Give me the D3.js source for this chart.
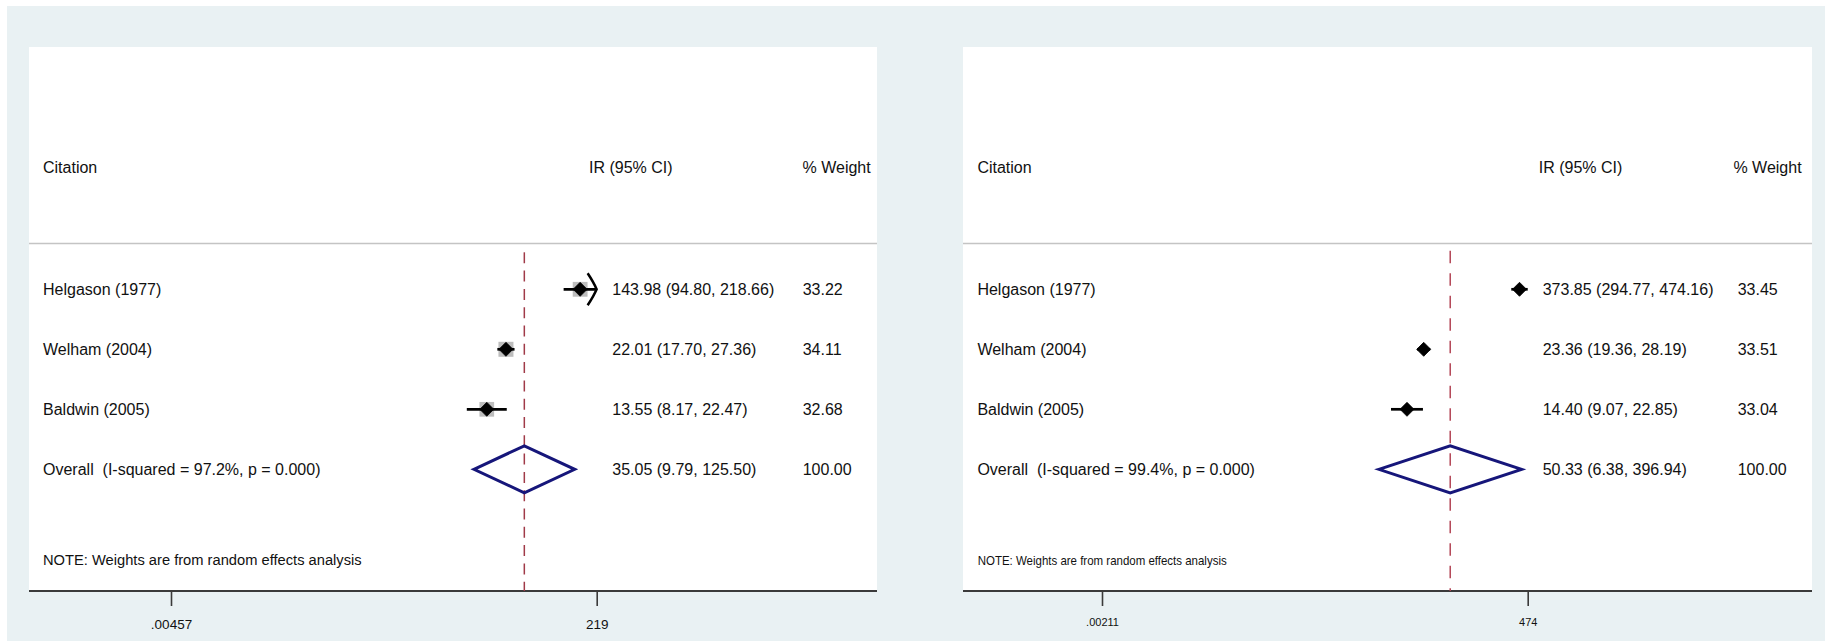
<!DOCTYPE html>
<html><head><meta charset="utf-8">
<script src="https://cdn.jsdelivr.net/npm/d3@7"></script>
<style>
html,body{margin:0;padding:0;background:#fff;}
svg{display:block;font-family:"Liberation Sans",Arial,sans-serif;}
text{white-space:pre;fill:#111;}
</style></head><body>
<svg id="chart" width="1825" height="641"></svg>
<script>
// ---- data ----
const studies = ["Helgason (1977)", "Welham (2004)", "Baldwin (2005)"];
const headers = ["Citation", "IR (95% CI)", "% Weight"];
const note = "NOTE: Weights are from random effects analysis";

const irA = [143.98, 22.01, 13.55];
const loA = [94.80, 17.70, 8.17];
const hiA = [218.66, 27.36, 22.47];
const weightA = [33.22, 34.11, 32.68];
const arrowA = [true, false, false];
const overallA = [35.05, 9.79, 125.50];
const overallWeightA = 100.00;
const hetA = ["97.2", "0.000"];
const ticksA = [0.00457, 219];
const tickLabelsA = [".00457", "219"];

const irB = [373.85, 23.36, 14.40];
const loB = [294.77, 19.36, 9.07];
const hiB = [474.16, 28.19, 22.85];
const weightB = [33.45, 33.51, 33.04];
const arrowB = [false, false, false];
const overallB = [50.33, 6.38, 396.94];
const overallWeightB = 100.00;
const hetB = ["99.4", "0.000"];
const ticksB = [0.00211, 474];
const tickLabelsB = [".00211", "474"];

// ---- layout ----
const svg = d3.select("#chart");
svg.append("rect").attr("x", 7).attr("y", 6).attr("width", 1818).attr("height", 635).attr("fill", "#e9f1f3");

const rowY = d3.scaleLinear().domain([0, 3]).range([289.3, 469.3]);

const panels = [
  {left: 29, right: 877, top: 47, bottom: 591, dataL: 171, dataR: 596.7,
   labelX: 43, esX: 612.3, wX: 802.7, hEsX: 589, hWX: 802.5, noteX: 43,
   noteSize: 14.7, noteLen: null, tickSize: 13.5, tickPad: 13.5,
   dash: "11 7.3", dashColor: "#a03a48", dashTop: 252.3, boxes: true,
   ir: irA, lo: loA, hi: hiA, w: weightA, arrow: arrowA, overall: overallA, ow: overallWeightA, het: hetA,
   ticks: ticksA, tickLabels: tickLabelsA},
  {left: 963, right: 1812, top: 47, bottom: 591, dataL: 1102, dataR: 1527.7,
   labelX: 977.4, esX: 1542.7, wX: 1737.7, hEsX: 1538.8, hWX: 1733.4, noteX: 977.7,
   noteSize: 13.5, noteLen: 249, tickSize: 11, tickPad: 12.4,
   dash: "12.5 10", dashColor: "#b44657", dashTop: 250.7, boxes: false,
   ir: irB, lo: loB, hi: hiB, w: weightB, arrow: arrowB, overall: overallB, ow: overallWeightB, het: hetB,
   ticks: ticksB, tickLabels: tickLabelsB}
];

const fmt = d3.format(".2f");
const FS = 16;

panels.forEach(p => {
  const g = svg.append("g");
  const x = d3.scaleLog().domain([p.ticks[0], p.ticks[1]]).range([p.dataL, p.dataR]);

  g.append("rect").attr("x", p.left).attr("y", p.top)
    .attr("width", p.right - p.left).attr("height", p.bottom - p.top).attr("fill", "#fff");

  // header separator
  g.append("line").attr("x1", p.left).attr("x2", p.right).attr("y1", 243.5).attr("y2", 243.5)
    .attr("stroke", "#c4c4c4").attr("stroke-width", 1.6);

  // axis
  const axis = d3.axisBottom(x).tickValues(p.ticks)
    .tickFormat((d, i) => p.tickLabels[i]).tickSize(15).tickPadding(p.tickPad);
  const ag = g.append("g").attr("transform", `translate(0,${p.bottom})`).call(axis);
  ag.select(".domain").remove();
  ag.selectAll(".tick line").attr("stroke", "#3a3a3a").attr("stroke-width", 1.6);
  ag.selectAll(".tick text").attr("font-size", p.tickSize).attr("font-family", "Liberation Sans, Arial, sans-serif").style("fill", "#111");
  g.append("line").attr("x1", p.left).attr("x2", p.right).attr("y1", p.bottom).attr("y2", p.bottom)
    .attr("stroke", "#3a3a3a").attr("stroke-width", 1.8);

  // dashed overall line
  g.append("line").attr("x1", x(p.overall[0])).attr("x2", x(p.overall[0]))
    .attr("y1", p.dashTop).attr("y2", p.bottom)
    .attr("stroke", p.dashColor).attr("stroke-width", 1.5).attr("stroke-dasharray", p.dash);

  const idx = d3.range(studies.length);

  // weight boxes
  if (p.boxes) {
    const maxW = d3.max(p.w);
    g.selectAll(".box").data(idx).join("rect")
      .attr("x", i => x(p.ir[i]) - 7.5 * Math.sqrt(p.w[i] / maxW))
      .attr("y", i => rowY(i) - 7.5 * Math.sqrt(p.w[i] / maxW))
      .attr("width", i => 15 * Math.sqrt(p.w[i] / maxW))
      .attr("height", i => 15 * Math.sqrt(p.w[i] / maxW))
      .attr("fill", "#bdbdbd");
  }

  // CI lines
  g.selectAll(".ci").data(idx).join("line")
    .attr("x1", i => x(p.lo[i])).attr("x2", i => x(p.hi[i]))
    .attr("y1", i => rowY(i)).attr("y2", i => rowY(i))
    .attr("stroke", "#000").attr("stroke-width", 2.7);

  // arrows for truncated CIs
  g.selectAll(".arr").data(idx.filter(i => p.arrow[i])).join("path")
    .attr("d", i => {
      const t = x(p.hi[i]), cy = rowY(i);
      return `M${t - 9},${cy - 16}Q${t - 3},${cy - 7} ${t},${cy}Q${t - 3},${cy + 7} ${t - 9},${cy + 16}`;
    })
    .attr("fill", "none").attr("stroke", "#000").attr("stroke-width", 2.5);

  // point markers
  g.selectAll(".pt").data(idx).join("path")
    .attr("d", i => {
      const cx = x(p.ir[i]), cy = rowY(i), r = 7;
      return `M${cx - r},${cy}L${cx},${cy - r}L${cx + r},${cy}L${cx},${cy + r}Z`;
    })
    .attr("fill", "#000").attr("stroke", "#000").attr("stroke-width", 0.8).attr("stroke-linejoin", "round");

  // overall diamond
  const oy = rowY(3);
  g.append("path")
    .attr("d", `M${x(p.overall[1])},${oy}L${x(p.overall[0])},${oy - 23.5}L${x(p.overall[2])},${oy}L${x(p.overall[0])},${oy + 23.5}Z`)
    .attr("fill", "none").attr("stroke", "#16167a").attr("stroke-width", 3);

  // header texts
  const hy = rowY(-2.04) + FS * 0.36;
  g.append("text").attr("x", p.labelX).attr("y", hy).attr("font-size", FS).text(headers[0]);
  g.append("text").attr("x", p.hEsX).attr("y", hy).attr("font-size", FS).text(headers[1]);
  g.append("text").attr("x", p.hWX).attr("y", hy).attr("font-size", FS).text(headers[2]);

  // study rows
  g.selectAll(".lab").data(idx).join("text")
    .attr("x", p.labelX).attr("y", i => rowY(i) + FS * 0.36).attr("font-size", FS)
    .text(i => studies[i]);
  g.selectAll(".es").data(idx).join("text")
    .attr("x", p.esX).attr("y", i => rowY(i) + FS * 0.36).attr("font-size", FS)
    .text(i => `${fmt(p.ir[i])} (${fmt(p.lo[i])}, ${fmt(p.hi[i])})`);
  g.selectAll(".wt").data(idx).join("text")
    .attr("x", p.wX).attr("y", i => rowY(i) + FS * 0.36).attr("font-size", FS)
    .text(i => fmt(p.w[i]));

  // overall row
  g.append("text").attr("x", p.labelX).attr("y", oy + FS * 0.36).attr("font-size", FS)
    .text(`Overall  (I-squared = ${p.het[0]}%, p = ${p.het[1]})`);
  g.append("text").attr("x", p.esX).attr("y", oy + FS * 0.36).attr("font-size", FS)
    .text(`${fmt(p.overall[0])} (${fmt(p.overall[1])}, ${fmt(p.overall[2])})`);
  g.append("text").attr("x", p.wX).attr("y", oy + FS * 0.36).attr("font-size", FS)
    .text(fmt(p.ow));

  // note
  const nt = g.append("text").attr("x", p.noteX).attr("y", rowY(4.51) + p.noteSize * 0.36)
    .attr("font-size", p.noteSize).text(note);
  if (p.noteLen) nt.attr("textLength", p.noteLen).attr("lengthAdjust", "spacingAndGlyphs");
});
</script>
</body></html>
